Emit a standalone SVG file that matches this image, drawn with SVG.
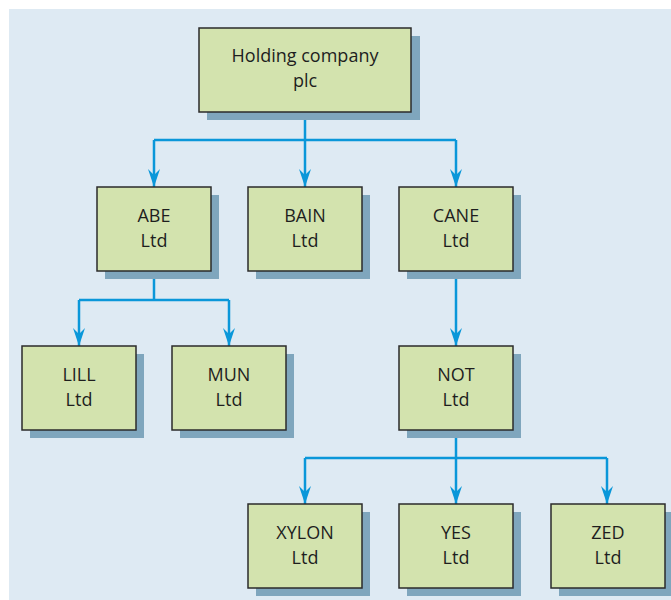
<svg xmlns="http://www.w3.org/2000/svg" width="671" height="600" viewBox="0 0 671 600">
  <defs>
    <marker id="arrow" viewBox="0 0 18 12" refX="18" refY="6" markerWidth="18" markerHeight="12" markerUnits="userSpaceOnUse" orient="auto">
      <path d="M0,0 L6,6 L0,12 L18,6 Z" fill="#0a97d9"/>
    </marker>
    <style>
      .bg { fill: #deeaf3; }
      .shadow { fill: #7fa6bd; }
      .box { fill: #d3e3ae; stroke: #2b2b2b; stroke-width: 1.5; }
      .label { font-family: "Open Sans", "Noto Sans", "Liberation Sans", sans-serif; font-size: 18px; fill: #1e1e1e; text-anchor: middle; }
      .conn { fill: none; stroke: #0a97d9; stroke-width: 2.5; }
    </style>
  </defs>

  <rect class="bg" x="9" y="9" width="662" height="591"/>

  <!-- connectors -->
  <g id="connectors">
    <path class="conn" d="M305,112 V140"/>
    <path class="conn" d="M154,140 H456"/>
    <path class="conn" d="M154,140 V187" marker-end="url(#arrow)"/>
    <path class="conn" d="M305,140 V187" marker-end="url(#arrow)"/>
    <path class="conn" d="M456,140 V187" marker-end="url(#arrow)"/>

    <path class="conn" d="M154,271 V300"/>
    <path class="conn" d="M79,300 H229"/>
    <path class="conn" d="M79,300 V346" marker-end="url(#arrow)"/>
    <path class="conn" d="M229,300 V346" marker-end="url(#arrow)"/>

    <path class="conn" d="M456,271 V346" marker-end="url(#arrow)"/>

    <path class="conn" d="M456,430 V458"/>
    <path class="conn" d="M305,458 H607"/>
    <path class="conn" d="M305,458 V504" marker-end="url(#arrow)"/>
    <path class="conn" d="M456,458 V504" marker-end="url(#arrow)"/>
    <path class="conn" d="M607,458 V504" marker-end="url(#arrow)"/>
  </g>

  <!-- holding company -->
  <g id="holding">
    <rect class="shadow" x="207" y="36" width="213" height="84"/>
    <rect class="box" x="199" y="28" width="212" height="84"/>
    <text class="label" x="305" y="62">Holding company</text>
    <text class="label" x="305" y="87">plc</text>
  </g>

  <g id="abe">
    <rect class="shadow" x="105" y="195" width="114" height="84"/>
    <rect class="box" x="97" y="187" width="114" height="84"/>
    <text class="label" x="154" y="222">ABE</text>
    <text class="label" x="154" y="247">Ltd</text>
  </g>

  <g id="bain">
    <rect class="shadow" x="256" y="195" width="114" height="84"/>
    <rect class="box" x="248" y="187" width="114" height="84"/>
    <text class="label" x="305" y="222">BAIN</text>
    <text class="label" x="305" y="247">Ltd</text>
  </g>

  <g id="cane">
    <rect class="shadow" x="407" y="195" width="114" height="84"/>
    <rect class="box" x="399" y="187" width="114" height="84"/>
    <text class="label" x="456" y="222">CANE</text>
    <text class="label" x="456" y="247">Ltd</text>
  </g>

  <g id="lill">
    <rect class="shadow" x="30" y="354" width="114" height="84"/>
    <rect class="box" x="22" y="346" width="114" height="84"/>
    <text class="label" x="79" y="381">LILL</text>
    <text class="label" x="79" y="406">Ltd</text>
  </g>

  <g id="mun">
    <rect class="shadow" x="180" y="354" width="114" height="84"/>
    <rect class="box" x="172" y="346" width="114" height="84"/>
    <text class="label" x="229" y="381">MUN</text>
    <text class="label" x="229" y="406">Ltd</text>
  </g>

  <g id="not">
    <rect class="shadow" x="407" y="354" width="114" height="84"/>
    <rect class="box" x="399" y="346" width="114" height="84"/>
    <text class="label" x="456" y="381">NOT</text>
    <text class="label" x="456" y="406">Ltd</text>
  </g>

  <g id="xylon">
    <rect class="shadow" x="256" y="512" width="114" height="84"/>
    <rect class="box" x="248" y="504" width="114" height="84"/>
    <text class="label" x="305" y="539">XYLON</text>
    <text class="label" x="305" y="564">Ltd</text>
  </g>

  <g id="yes">
    <rect class="shadow" x="407" y="512" width="114" height="84"/>
    <rect class="box" x="399" y="504" width="114" height="84"/>
    <text class="label" x="456" y="539">YES</text>
    <text class="label" x="456" y="564">Ltd</text>
  </g>

  <g id="zed">
    <rect class="shadow" x="559" y="512" width="114" height="84"/>
    <rect class="box" x="551" y="504" width="114" height="84"/>
    <text class="label" x="608" y="539">ZED</text>
    <text class="label" x="608" y="564">Ltd</text>
  </g>
</svg>
